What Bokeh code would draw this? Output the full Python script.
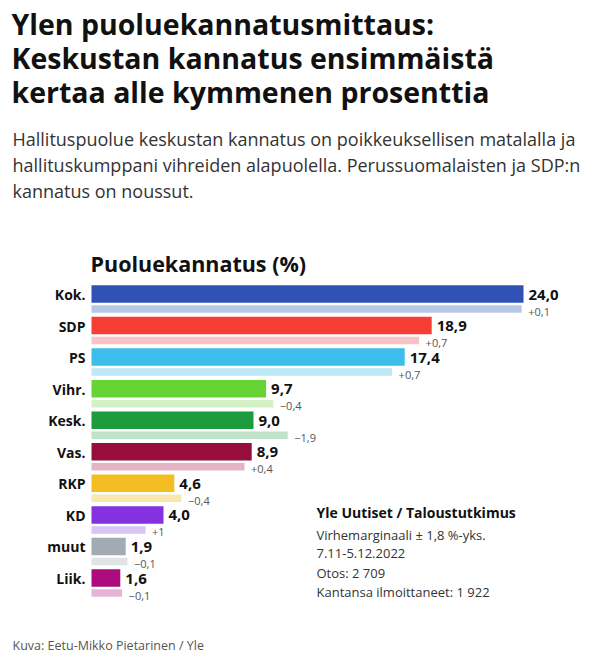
import numpy as np
from bokeh.plotting import figure
from bokeh.models import ColumnDataSource, Range1d, Label
from bokeh.core.properties import value
from bokeh.embed import file_html
from bokeh.resources import INLINE

# ---- data ----
parties = ["Kok.", "SDP", "PS", "Vihr.", "Kesk.", "Vas.", "RKP", "KD", "muut", "Liik."]
support = [24.0, 18.9, 17.4, 9.7, 9.0, 8.9, 4.6, 4.0, 1.9, 1.6]
change = [0.1, 0.7, 0.7, -0.4, -1.9, 0.4, -0.4, 1.0, -0.1, -0.1]
change_labels = ["+0,1", "+0,7", "+0,7", "\u22120,4", "\u22121,9", "+0,4", "\u22120,4", "+1", "\u22120,1", "\u22120,1"]
colors = ["#2f52b4", "#f83d37", "#3dbde9", "#65d434", "#1d9c3d", "#970e3c", "#f4bd21", "#8431e0", "#a2abb3", "#ab0b7d"]
light_colors = ["#b7c8e7", "#f8c3c3", "#bde8f7", "#d4f1c5", "#bfe2c8", "#e4b3c5", "#f8e7ae", "#d8c5f3", "#e1e4e7", "#e5b4d7"]

title_lines = ["Ylen puoluekannatusmittaus:",
               "Keskustan kannatus ensimmäistä",
               "kertaa alle kymmenen prosenttia"]
subtitle_lines = ["Hallituspuolue keskustan kannatus on poikkeuksellisen matalalla ja",
                  "hallituskumppani vihreiden alapuolella. Perussuomalaisten ja SDP:n",
                  "kannatus on noussut."]
chart_title = "Puoluekannatus (%)"
source_title = "Yle Uutiset / Taloustutkimus"
source_lines = ["Virhemarginaali ± 1,8 %-yks.", "7.11-5.12.2022", "Otos: 2 709", "Kantansa ilmoittaneet: 1 922"]
footer = "Kuva: Eetu-Mikko Pietarinen / Yle"

# ---- layout helpers (page pixels -> data) ----
W, H = 594, 657
X0, PXU = 91.0, 18.0          # page x of value 0, pixels per percent
Y0, ROW = 293.5, 31.56        # page y of first row centre, pixels per row


def dx(px):
    return (px - X0) / PXU


def dy(py):
    return (py - Y0) / ROW


FONT = "Open Sans"

p = figure(width=W, height=H, output_backend="svg", toolbar_location=None,
           x_range=Range1d(dx(0), dx(W)), y_range=Range1d(dy(H), dy(0)),
           x_axis_location=None, y_axis_location=None, min_border=0,
           outline_line_color=None, background_fill_color="white", border_fill_color="white")
p.grid.visible = False

rows = np.arange(len(parties), dtype=float)
prev = [round(s - c, 1) for s, c in zip(support, change)]

src = ColumnDataSource(dict(
    y=rows, y_light=rows + 15.0 / ROW, y_txt=rows + 0.5 / ROW, y_chg=rows + 17.5 / ROW,
    support=support, prev=prev, color=colors, light=light_colors, party=parties,
    val_lbl=[f"{v:.1f}".replace(".", ",") for v in support], chg_lbl=change_labels,
    val_x=[v + 5.0 / PXU for v in support], chg_x=[v + 6.5 / PXU for v in prev],
    cat_x=[dx(85)] * len(parties),
))

p.hbar(y="y", left=0, right="support", height=17.5 / ROW, color="color", line_color=None, source=src)
p.hbar(y="y_light", left=0, right="prev", height=7.5 / ROW, color="light", line_color=None, source=src)

p.text(x="cat_x", y="y_txt", text="party", text_font=value(FONT), text_font_style="bold",
       text_font_size="14px", text_align="right", text_baseline="middle", text_color="#111111", source=src)
p.text(x="val_x", y="y_txt", text="val_lbl", text_font=value(FONT), text_font_style="bold",
       text_font_size="15px", text_align="left", text_baseline="middle", text_color="#111111", source=src)
p.text(x="chg_x", y="y_chg", text="chg_lbl", text_font=value(FONT),
       text_font_size="11px", text_align="left", text_baseline="middle", text_color="#555555", source=src)


def add_label(txt, px, py, size, bold=False, color="#111111"):
    p.add_layout(Label(x=dx(px), y=dy(py), text=txt, text_font=FONT, text_font_size=f"{size}px",
                       text_font_style="bold" if bold else "normal", text_color=color,
                       text_align="left", text_baseline="middle"))


for i, t in enumerate(title_lines):
    add_label(t, 11, 23.5 + 34 * i, 28.5, bold=True, color="#111111")
for i, t in enumerate(subtitle_lines):
    add_label(t, 12, 138 + 26 * i, 18, color="#333333")
add_label(chart_title, 90, 262.5, 21.5, bold=True, color="#111111")
add_label(source_title, 316, 512, 14, bold=True, color="#111111")
for i, t in enumerate(source_lines):
    add_label(t, 316, 534 + 19 * i, 13, color="#333333")
add_label(footer, 12, 645, 12.5, color="#555555")

open("out.html", "w").write(file_html(p, INLINE))
